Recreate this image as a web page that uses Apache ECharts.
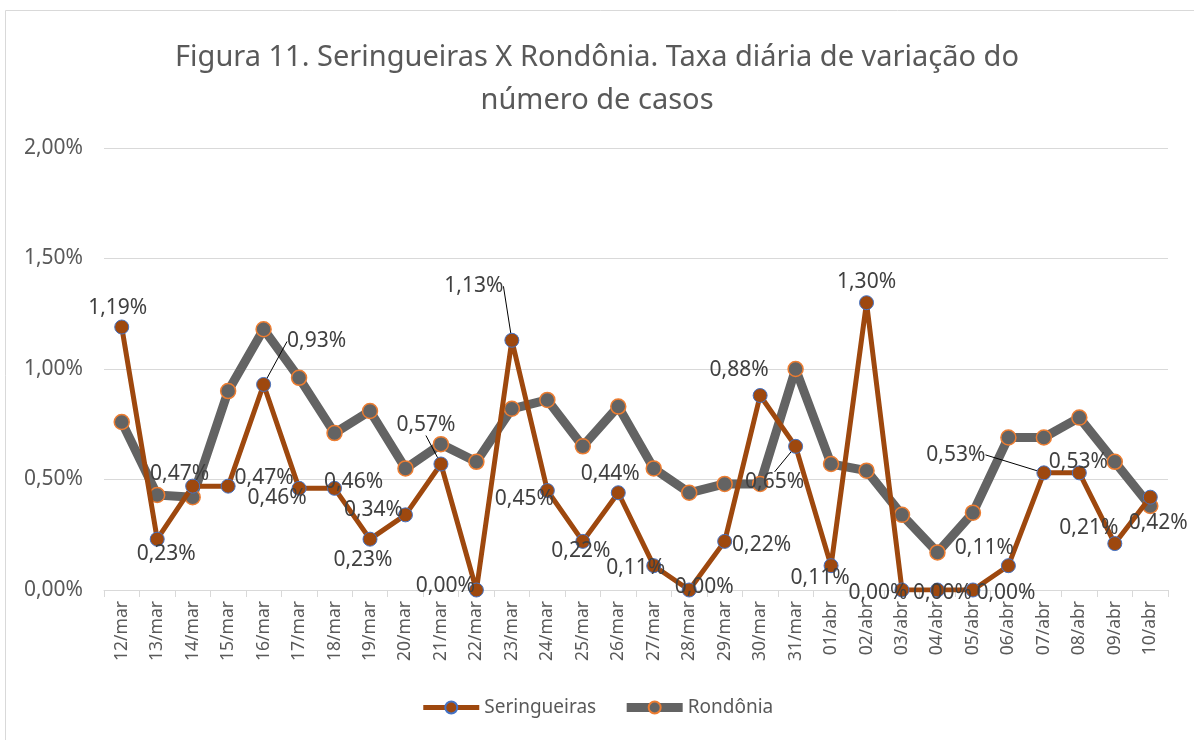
<!DOCTYPE html>
<html>
<head>
<meta charset="utf-8">
<script src="https://cdn.jsdelivr.net/npm/echarts@6/dist/echarts.min.js"></script>
<style>
html,body{margin:0;padding:0;background:#fff;}
#chart{width:1194px;height:740px;}
</style>
</head>
<body>
<div id="chart"></div>
<script>
// ---- data ----
const categories = ['12/mar','13/mar','14/mar','15/mar','16/mar','17/mar','18/mar','19/mar','20/mar','21/mar','22/mar','23/mar','24/mar','25/mar','26/mar','27/mar','28/mar','29/mar','30/mar','31/mar','01/abr','02/abr','03/abr','04/abr','05/abr','06/abr','07/abr','08/abr','09/abr','10/abr'];
const seringueiras = [1.19,0.23,0.47,0.47,0.93,0.46,0.46,0.23,0.34,0.57,0.00,1.13,0.45,0.22,0.44,0.11,0.00,0.22,0.88,0.65,0.11,1.30,0.00,0.00,0.00,0.11,0.53,0.53,0.21,0.42];
const rondonia = [0.76,0.43,0.42,0.90,1.18,0.96,0.71,0.81,0.55,0.66,0.58,0.82,0.86,0.65,0.83,0.55,0.44,0.48,0.48,1.00,0.57,0.54,0.34,0.17,0.35,0.69,0.69,0.78,0.58,0.38];
const yTicks = [0, 0.5, 1.0, 1.5, 2.0];
const seriesNames = ['Seringueiras','Rondônia'];
const titleText = 'Figura 11. Seringueiras X Rondônia. Taxa diária de variação do\nnúmero de casos';

// ---- label placement (styling, offsets in px from the point) ----
const labelOffsets = [[-4,-19],[9,15],[-13,-12],[36,-8],[53,-43],[-22,10],[19,-6],[-7,21],[-32,-5],[-15,-39],[-31,-4],[-38,-54],[-23,8],[-2,10],[-8,-19],[-18,2],[15,-3],[37,4],[-21,-26],[-21,36],[-11,12],[0,-21],[-24,3],[5,3],[33,3],[-24,-18],[-88,-18],[-1,-11],[-26,-16],[8,26]];
const leaderIdx = [4,9,11,19,26];

const fmt = v => v.toFixed(2).replace('.', ',') + '%';
const FONT = 'Noto Sans';

const serData = seringueiras.map((v,i) => leaderIdx.includes(i)
  ? {value: v, labelLine: {show: true, lineStyle: {color: '#000', width: 1}}}
  : v);

const chart = echarts.init(document.getElementById('chart'));
chart.setOption({
  backgroundColor: '#fff',
  animation: false,
  textStyle: {fontFamily: FONT},
  graphic: [{
    type: 'rect', silent: true, z: -10,
    shape: {x: 5.5, y: 10.5, width: 1200, height: 760},
    style: {fill: 'none', stroke: '#d9d9d9', lineWidth: 1}
  }],
  title: {
    text: titleText, left: 'center', top: 31,
    textStyle: {fontFamily: FONT, fontSize: 29, fontWeight: 'normal', color: '#595959', lineHeight: 43}
  },
  legend: {
    bottom: 18, left: 'center',
    itemWidth: 56, itemHeight: 15, itemGap: 26,
    lineStyle: {width: 'inherit'},
    textStyle: {fontFamily: FONT, fontSize: 19, color: '#595959'},
    data: seriesNames
  },
  grid: {left: 104, right: 26, top: 148, bottom: 150, containLabel: false},
  xAxis: {
    type: 'category', data: categories, boundaryGap: true,
    axisLine: {lineStyle: {color: '#d9d9d9', width: 1}},
    axisTick: {show: true, length: 7, lineStyle: {color: '#d9d9d9'}},
    axisLabel: {rotate: 90, interval: 0, fontSize: 17.5, color: '#595959', fontFamily: FONT, margin: 11}
  },
  yAxis: {
    type: 'value', min: 0, max: 2, interval: 0.5,
    axisLine: {show: false}, axisTick: {show: false},
    splitLine: {lineStyle: {color: '#d9d9d9', width: 1}},
    axisLabel: {formatter: v => fmt(v), fontSize: 21, color: '#595959', fontFamily: FONT, margin: 21}
  },
  series: [
    {
      name: seriesNames[0], type: 'line', data: serData, z: 4,
      symbol: 'circle', symbolSize: 14,
      lineStyle: {color: '#9E480E', width: 5},
      itemStyle: {color: '#9E480E', borderColor: '#4472C4', borderWidth: 1},
      label: {
        show: true, position: 'inside',
        formatter: p => fmt(seringueiras[p.dataIndex]),
        fontFamily: FONT, fontSize: 21, color: '#404040'
      },
      labelLayout: p => ({dx: labelOffsets[p.dataIndex][0], dy: labelOffsets[p.dataIndex][1]}),
      labelLine: {show: false, lineStyle: {color: '#000', width: 1}},
      emphasis: {disabled: true}
    },
    {
      name: seriesNames[1], type: 'line', data: rondonia, z: 3,
      symbol: 'circle', symbolSize: 15,
      lineStyle: {color: '#636363', width: 9},
      itemStyle: {color: '#636363', borderColor: '#ED7D31', borderWidth: 1.5},
      emphasis: {disabled: true}
    }
  ]
});
</script>
</body>
</html>
